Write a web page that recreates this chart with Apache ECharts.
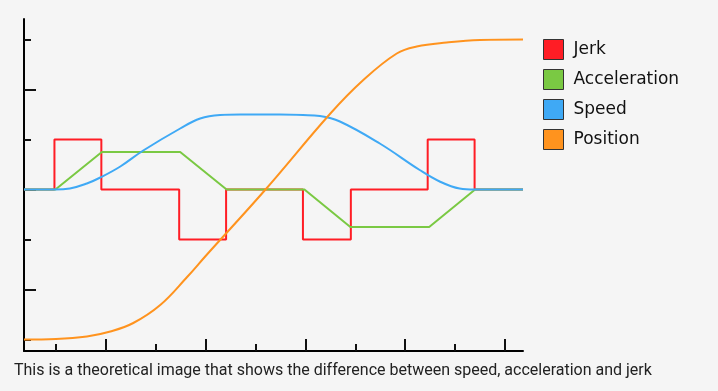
<!DOCTYPE html>
<html>
<head>
<meta charset="utf-8">
<style>
html,body{margin:0;padding:0;background:#f5f5f5;}
#c{width:718px;height:391px;}
</style>
<script src="https://cdn.jsdelivr.net/npm/echarts@6/dist/echarts.min.js"></script>
</head>
<body>
<div id="c"></div>
<script>
const seriesNames = ['Jerk', 'Acceleration', 'Speed', 'Position'];
const seriesColors = ['#FF1D25', '#7AC943', '#3FA9F5', '#FF931E'];

const jerk = [[0.36,0],[0.97,0],[0.97,1],[1.91,1],[1.91,0],[3.47,0],[3.47,-1],[4.41,-1],[4.41,0],
  [5.95,0],[5.95,-1],[6.91,-1],[6.91,0],[8.45,0],[8.45,1],[9.39,1],[9.39,0],[10.36,0]];
const acceleration = [[0.36,0],[0.99,0],[1.92,0.75],[3.49,0.75],[4.42,0],[5.98,0],[6.9,-0.75],
  [8.48,-0.75],[9.4,0],[10.36,0]];
const speed = [[0.36,0],[0.98,0],[1.28,0.02],[1.62,0.12],[1.89,0.24],[2.29,0.46],[2.75,0.78],
  [3.49,1.22],[3.89,1.42],[4.29,1.49],[4.69,1.5],[5.49,1.5],[5.95,1.49],[6.29,1.47],[6.69,1.36],
  [7.49,0.92],[8.29,0.39],[8.69,0.16],[9.09,0.02],[9.39,0],[10.36,0]];
const position = [[0.36,-3.0],[1.0,-2.99],[1.62,-2.94],[2.09,-2.84],[2.55,-2.67],[3.09,-2.31],
  [3.62,-1.76],[4.0,-1.33],[5.2,0.0],[6.5,1.52],[7.16,2.19],[7.83,2.72],[8.23,2.86],[8.83,2.94],
  [9.5,2.99],[10.36,3.0]];

const xMajorTicks = [2, 4, 6, 8, 10];
const xMinorTicks = [1, 3, 5, 7, 9];
const yMajorTicks = [-2, 0, 2];
const yMinorTicks = [-3, -1, 1, 3];
const caption = 'This is a theoretical image that shows the difference between speed, acceleration and jerk';

const chart = echarts.init(document.getElementById('c'), null, {renderer: 'canvas'});
const X_MIN = 0.36, X_MAX = 10.36, Y_MIN = -3.23, Y_MAX = 3.41;

function xAx(ticks, len, showLine) {
  return {
    type: 'value', min: X_MIN, max: X_MAX, position: 'bottom', gridIndex: 0,
    axisLine: {show: showLine, onZero: false, lineStyle: {color: '#000', width: 2}},
    axisTick: {show: true, inside: true, length: len, customValues: ticks, lineStyle: {color: '#111', width: 2}},
    axisLabel: {show: false}, splitLine: {show: false}
  };
}
function yAx(ticks, len, showLine) {
  return {
    type: 'value', min: Y_MIN, max: Y_MAX, position: 'left', gridIndex: 0,
    axisLine: {show: showLine, onZero: false, lineStyle: {color: '#000', width: 2}},
    axisTick: {show: true, inside: true, length: len, customValues: ticks, lineStyle: {color: '#111', width: 2}},
    axisLabel: {show: false}, splitLine: {show: false}
  };
}

const dataSets = [jerk, acceleration, speed, position];
const series = seriesNames.map((n, i) => ({
  name: n, type: 'line', data: dataSets[i], xAxisIndex: 0, yAxisIndex: 0,
  showSymbol: false, symbol: 'none',
  smooth: i >= 2 ? 0.4 : false,
  lineStyle: {color: seriesColors[i], width: 2},
  itemStyle: {color: seriesColors[i], borderColor: '#333', borderWidth: 1},
  animation: false, z: 2 + i
}));

chart.setOption({
  backgroundColor: '#f5f5f5',
  animation: false,
  grid: {left: 24, top: 19, width: 499, height: 332, containLabel: false},
  xAxis: [xAx(xMajorTicks, 12, true), xAx(xMinorTicks, 7, false)],
  yAxis: [yAx(yMajorTicks, 12, true), yAx(yMinorTicks, 7, false)],
  legend: {
    orient: 'vertical', left: 538, top: 34, itemWidth: 20, itemHeight: 20, itemGap: 9,
    icon: 'rect',
    itemStyle: {borderColor: '#333', borderWidth: 1},
    textStyle: {fontFamily: 'DejaVu Sans', fontSize: 17, color: '#111', padding: [0, 0, 0, 5]},
    data: seriesNames
  },
  graphic: [{
    type: 'text', left: 14, top: 363,
    style: {text: caption, fontFamily: 'Roboto', fontSize: 16, fill: '#222'}
  }],
  series: series
});
</script>
</body>
</html>
